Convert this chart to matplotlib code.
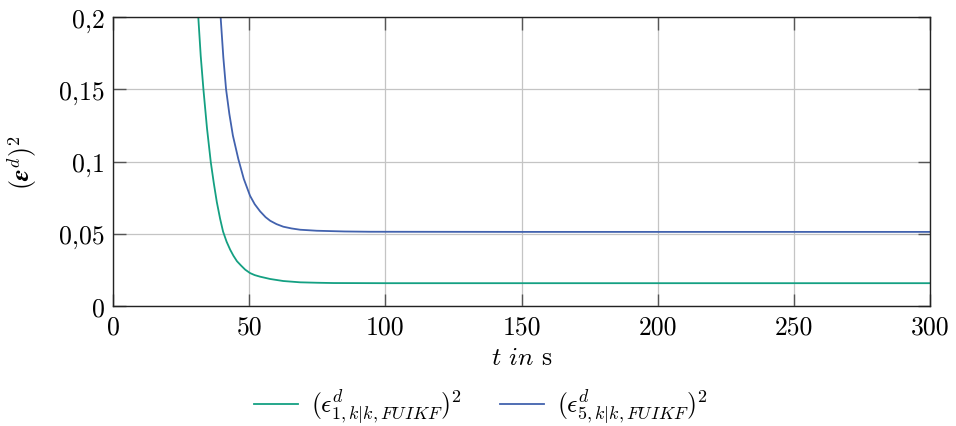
import matplotlib
matplotlib.use("Agg")
import matplotlib.pyplot as plt

plt.rcParams['mathtext.fontset'] = 'cm'
plt.rcParams['font.family'] = ['cmr10', 'DejaVu Serif']
plt.rcParams['axes.unicode_minus'] = False

t_1 = [30.9, 31.3, 32.2, 33.2, 34.5, 35.9, 37.0, 38.1, 39.3, 40.4, 41.7, 43.0,
       44.2, 45.5, 47.0, 48.5, 50.3, 52.0, 54.0, 57.7, 62.5, 68.7, 75.0, 81.0,
       100.0, 150.0, 200.0, 250.0, 300.0]
eps_1 = [0.215, 0.2, 0.173, 0.1497, 0.123, 0.0994, 0.085, 0.072, 0.0605, 0.0515,
         0.0445, 0.039, 0.0348, 0.031, 0.028, 0.0252, 0.0228, 0.0214, 0.0203,
         0.0187, 0.0173, 0.0164, 0.0161, 0.0159, 0.0158, 0.0158, 0.0158, 0.0158,
         0.0158]

t_5 = [39.1, 39.5, 40.5, 41.5, 42.7, 44.0, 46.0, 48.0, 50.3, 52.0, 54.0, 56.0,
       57.7, 60.0, 62.5, 65.5, 68.7, 74.8, 85.0, 94.4, 150.0, 200.0, 250.0, 300.0]
eps_5 = [0.215, 0.2, 0.172, 0.15, 0.133, 0.118, 0.1017, 0.088, 0.0763, 0.0705,
         0.0655, 0.0615, 0.059, 0.0567, 0.0549, 0.0537, 0.0528, 0.0521, 0.0516,
         0.0514, 0.0513, 0.0513, 0.0513, 0.0513]

x_ticks = [0, 50, 100, 150, 200, 250, 300]
y_ticks = [0, 0.05, 0.1, 0.15, 0.2]
y_tick_labels = ['0', '0,05', '0,1', '0,15', '0,2']

labels = [r'$(\epsilon^{d}_{1,k|k,FUIKF})^2$', r'$(\epsilon^{d}_{5,k|k,FUIKF})^2$']
colors = ['#14a082', '#4262ae']

fig = plt.figure(figsize=(9.56, 4.27), dpi=100)
ax = fig.add_axes([0.1182, 0.281, 0.855, 0.6767])

ax.plot(t_1, eps_1, color=colors[0], lw=1.3, label=labels[0])
ax.plot(t_5, eps_5, color=colors[1], lw=1.3, label=labels[1])

ax.set_xlim(0, 300)
ax.set_ylim(0, 0.2)
ax.set_xticks(x_ticks)
ax.set_xticklabels([str(v) for v in x_ticks])
ax.set_yticks(y_ticks)
ax.set_yticklabels(y_tick_labels)
ax.tick_params(direction='in', length=9, width=1.0, color='#555555',
               top=True, right=True, labelsize=18.5, pad=6)
ax.grid(True, color='#c4c4c4', lw=0.9)
ax.set_axisbelow(True)
for s in ax.spines.values():
    s.set_linewidth(1.0)
    s.set_color('#222222')

ax.set_xlabel(r'$t$ $\mathit{in}$ s', fontsize=18.5, labelpad=5)
ax.set_ylabel(r'$(\boldsymbol{\epsilon}^d)^2$', fontsize=18.5, labelpad=14)

fig.legend(loc='center', bbox_to_anchor=(0.503, 0.045), ncol=2, frameon=False,
           fontsize=18.5, handlelength=1.7, columnspacing=1.5, handletextpad=0.5)

fig.savefig('out.png', dpi=100)
